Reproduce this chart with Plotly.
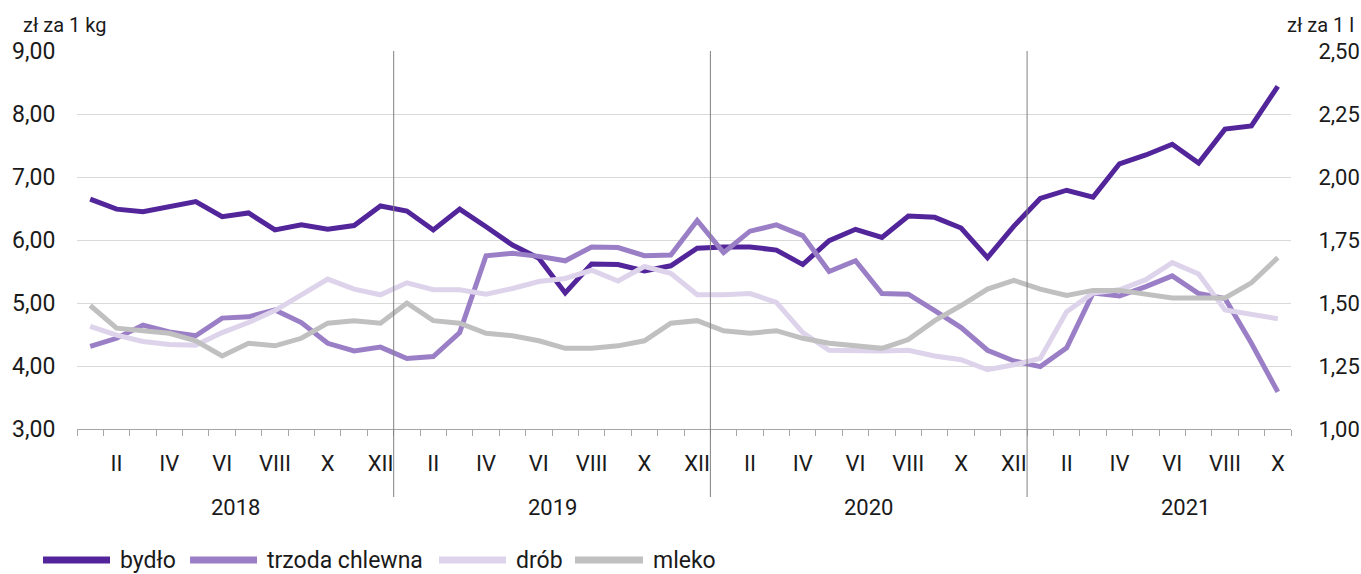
import plotly.graph_objects as go

months_roman = ["I", "II", "III", "IV", "V", "VI", "VII", "VIII", "IX", "X", "XI", "XII"]
years = ["2018", "2019", "2020", "2021"]
n_months = 46
month_idx = list(range(n_months))
tick_labels = [months_roman[i % 12] for i in month_idx]

bydlo = [6.65, 6.49, 6.45, 6.52, 6.61, 6.37, 6.43, 6.16, 6.24, 6.17, 6.23, 6.54,
         6.46, 6.16, 6.49, 6.21, 5.92, 5.71, 5.16, 5.62, 5.61, 5.51, 5.59, 5.87,
         5.89, 5.89, 5.84, 5.61, 5.99, 6.17, 6.04, 6.38, 6.36, 6.19, 5.72, 6.22,
         6.66, 6.79, 6.68, 7.21, 7.35, 7.52, 7.22, 7.76, 7.81, 8.44]
trzoda = [4.31, 4.44, 4.65, 4.54, 4.48, 4.76, 4.78, 4.89, 4.69, 4.36, 4.24, 4.30,
          4.12, 4.15, 4.53, 5.75, 5.79, 5.74, 5.67, 5.89, 5.88, 5.75, 5.76, 6.31,
          5.80, 6.14, 6.24, 6.07, 5.50, 5.67, 5.15, 5.14, 4.88, 4.61, 4.25, 4.08,
          3.99, 4.29, 5.16, 5.11, 5.26, 5.43, 5.15, 5.07, 4.36, 3.59]
drob = [4.63, 4.49, 4.39, 4.34, 4.33, 4.53, 4.69, 4.88, 5.13, 5.38, 5.22, 5.13,
        5.32, 5.21, 5.21, 5.14, 5.23, 5.34, 5.39, 5.52, 5.35, 5.58, 5.47, 5.13,
        5.13, 5.15, 5.01, 4.53, 4.25, 4.24, 4.24, 4.25, 4.16, 4.10, 3.94, 4.02,
        4.12, 4.86, 5.16, 5.21, 5.37, 5.64, 5.46, 4.89, 4.81, 4.75]
mleko = [1.49, 1.40, 1.39, 1.38, 1.35, 1.29, 1.34, 1.33, 1.36, 1.42, 1.43, 1.42,
         1.50, 1.43, 1.42, 1.38, 1.37, 1.35, 1.32, 1.32, 1.33, 1.35, 1.42, 1.43,
         1.39, 1.38, 1.39, 1.36, 1.34, 1.33, 1.32, 1.355, 1.43, 1.49, 1.555, 1.59,
         1.555, 1.53, 1.55, 1.55, 1.535, 1.52, 1.52, 1.52, 1.58, 1.68]

series_names = ["bydło", "trzoda chlewna", "drób", "mleko"]
series_values = [bydlo, trzoda, drob, mleko]
series_colors = ["#52259a", "#9b7fc6", "#ddd3eb", "#c0c0c0"]
series_axes = ["y", "y", "y", "y2"]

FONT = "Roboto, sans-serif"

W, H = 1361, 574
ML, MR, MT, MB = 77, 70, 51, 145
PW, PH = W - ML - MR, H - MT - MB


def px_x(px):  # window pixel -> paper x
    return (px - ML) / PW


def px_y(py):  # window pixel -> paper y
    return (H - MB - py) / PH


fig = go.Figure()
for name, vals, color, yax in zip(series_names, series_values, series_colors, series_axes):
    fig.add_trace(go.Scatter(x=month_idx, y=vals, name=name, mode="lines",
                             line=dict(color=color, width=5), yaxis=yax,
                             showlegend=False))

label_vals = [i for i in month_idx if i % 2 == 1]
fig.update_layout(
    width=W, height=H,
    margin=dict(l=ML, r=MR, t=MT, b=MB, autoexpand=False),
    paper_bgcolor="white", plot_bgcolor="white",
    separators=", ",
    font=dict(family=FONT, size=22, color="#1a1a1a"),
    showlegend=False,
    xaxis=dict(range=[-0.5, n_months - 0.5], tickmode="array",
               tickvals=label_vals, ticktext=[tick_labels[i] for i in label_vals],
               ticks="outside", ticklen=15, tickcolor="rgba(0,0,0,0)",
               tickfont=dict(size=22),
               showgrid=False, zeroline=False, showline=True,
               linecolor="#a6a6a6", linewidth=1,
               minor=dict(tickmode="linear", tick0=-0.5, dtick=1, ticks="outside",
                          ticklen=6, tickcolor="#a6a6a6", showgrid=False)),
    yaxis=dict(range=[3, 9], dtick=1, tickformat=".2f", showgrid=True,
               gridcolor="#d9d9d9", gridwidth=1, zeroline=False,
               tickfont=dict(size=23),
               ticks="outside", ticklen=16, tickcolor="rgba(0,0,0,0)"),
    yaxis2=dict(range=[1, 2.5], dtick=0.25, tickformat=".2f", overlaying="y",
                side="right", showgrid=False, zeroline=False,
                tickfont=dict(size=22),
                ticks="outside", ticklen=22, tickcolor="rgba(0,0,0,0)"),
)

# year separators
for k in range(1, len(years)):
    fig.add_shape(type="line", xref="x", yref="paper",
                  x0=12 * k - 0.5, x1=12 * k - 0.5, y0=1, y1=px_y(497),
                  line=dict(color="#808080", width=1))

# year labels (centred on each year's 12 months)
for k, yr in enumerate(years):
    fig.add_annotation(x=12 * k + 5.5, xref="x", yref="paper", y=px_y(507),
                       yanchor="middle", text=yr, showarrow=False, font=dict(size=22))

# axis unit labels
fig.add_annotation(text="zł za 1 kg", xref="paper", yref="paper", x=px_x(21), y=px_y(25),
                   xanchor="left", yanchor="middle", showarrow=False, font=dict(size=20))
fig.add_annotation(text="zł za 1 l", xref="paper", yref="paper", x=px_x(1356), y=px_y(25),
                   xanchor="right", yanchor="middle", showarrow=False, font=dict(size=20))

# legend (long line swatches, as in the reference)
legend_line_px = [(43, 110), (190, 257), (439, 506), (575, 643)]
for name, color, (x0, x1) in zip(series_names, series_colors, legend_line_px):
    fig.add_shape(type="line", xref="paper", yref="paper", x0=px_x(x0), x1=px_x(x1),
                  y0=px_y(560), y1=px_y(560), line=dict(color=color, width=7))
    fig.add_annotation(text=name, xref="paper", yref="paper", x=px_x(x1 + 8),
                       y=px_y(560), xanchor="left", yanchor="middle",
                       showarrow=False, font=dict(size=23))

fig.write_html(
    "out.html",
    config={"displayModeBar": False},
    post_script="document.body.style.margin='0';document.body.style.overflow='hidden';",
)
